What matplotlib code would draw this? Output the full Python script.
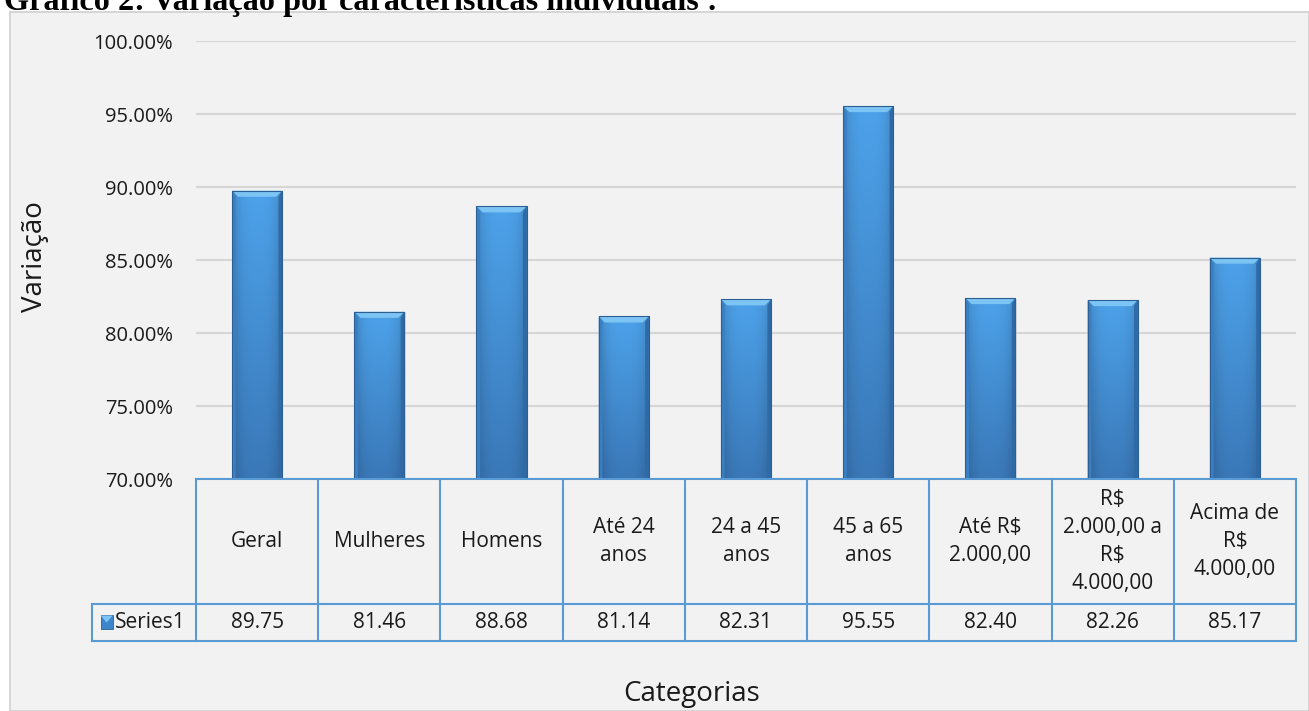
import matplotlib.pyplot as plt
import numpy as np
from matplotlib.patches import Rectangle, Polygon
from matplotlib.transforms import blended_transform_factory

categories = ['Geral', 'Mulheres', 'Homens', 'Até 24\nanos', '24 a 45\nanos',
              '45 a 65\nanos', 'Até R$\n2.000,00', 'R$\n2.000,00 a\nR$\n4.000,00',
              'Acima de\nR$\n4.000,00']
values = [89.75, 81.46, 88.68, 81.14, 82.31, 95.55, 82.40, 82.26, 85.17]
series_name = 'Series1'
yticks = [70, 75, 80, 85, 90, 95, 100]

W, H = 1309, 711
FONT = 'Open Sans'
fig = plt.figure(figsize=(W / 100, H / 100), dpi=100)
fig.patch.set_facecolor('white')

# chart area panel
panel = Rectangle((10 / W, 0), 1 - 10 / W, 1 - 12 / H, transform=fig.transFigure,
                  facecolor='#f2f2f2', edgecolor='#d0d0d0', lw=1.2, zorder=-1)
fig.patches.append(panel)

fig.text(4 / W, 1 - 10 / H, 'Gráfico 2: Variação por características individuais :',
         fontsize=23.2, fontweight='bold', family='Liberation Serif', va='baseline', ha='left')

ax = fig.add_axes([196 / W, 1 - 479 / H, 1100 / W, 438 / H])
ax.set_zorder(2)
ax.set_facecolor('none')
ax.set_yticks(yticks)
ax.set_yticklabels([f'{t:.2f}%' for t in yticks], family=FONT, fontsize=14.5,
                   color='#1a1a1a')
ax.tick_params(axis='y', length=0, pad=16.5)
ax.set_xticks([])
for s in ax.spines.values():
    s.set_visible(False)
ax.grid(axis='y', color='#d6d6d6', lw=1.5)
ax.set_axisbelow(True)

# bar gradient: light centre/top, darker edges/bottom
ny, nx = 64, 32
yy = np.linspace(0, 1, ny)[:, None]          # 0 bottom -> 1 top
xx = np.linspace(-1, 1, nx)[None, :]
top = np.array([0x4d, 0xa2, 0xea]) / 255
bot = np.array([0x3a, 0x78, 0xb8]) / 255
base = bot + (top - bot) * yy[..., None]
shade = 1 - 0.18 * np.abs(xx) ** 3
grad = np.clip(base * shade[..., None], 0, 1)

bw = 0.41
bx = 0.05
by = 0.42
for i, v in enumerate(values):
    x0, x1 = i - bw / 2, i + bw / 2
    # soft shadow
    ax.add_patch(Rectangle((x0 + 0.01, 70), bw, v - 70 - 0.05, facecolor='#9aa6b2',
                           alpha=0.35, lw=0, zorder=1.5))
    rect = Rectangle((x0, 70), bw, v - 70, facecolor='#4592da', lw=0, zorder=2)
    ax.add_patch(rect)
    im = ax.imshow(grad, extent=(x0, x1, 70, v), origin='lower', aspect='auto', zorder=2.1,
                   interpolation='bilinear')
    im.set_clip_path(rect)
    # bevel edges
    ax.add_patch(Polygon([(x0, v), (x1, v), (x1 - bx, v - by), (x0 + bx, v - by)],
                         facecolor='#7cc4f4', lw=0, zorder=2.2))
    ax.add_patch(Polygon([(x0, 70), (x0, v), (x0 + bx * 0.6, v - by), (x0 + bx * 0.6, 70)],
                         facecolor='#3a7fc4', lw=0, zorder=2.2))
    ax.add_patch(Polygon([(x1, 70), (x1, v), (x1 - bx * 0.6, v - by), (x1 - bx * 0.6, 70)],
                         facecolor='#2f6aa6', lw=0, zorder=2.2))
    ax.add_patch(Rectangle((x0, 70), bw, v - 70, facecolor='none', edgecolor='#2e5f92',
                           lw=0.8, zorder=2.3))
ax.set_xlim(-0.5, len(categories) - 0.5)
ax.set_ylim(70, 100)

# data table below the axis
tr = blended_transform_factory(ax.transData, ax.transAxes)
line_c = '#5b9bd5'
r1 = -(604 - 479) / 438
r2 = -(641 - 479) / 438
n = len(categories)
lkw = dict(color=line_c, lw=1.5, transform=tr, clip_on=False, zorder=3)
ax.plot([-0.5, n - 0.5], [0, 0], **lkw)
lx = -0.5 - (196 - 92) / (1100 / n)
ax.plot([lx, n - 0.5], [r1, r1], **lkw)
ax.plot([lx, n - 0.5], [r2, r2], **lkw)
ax.plot([lx, lx], [r1, r2], **lkw)
for k in range(n + 1):
    ax.plot([k - 0.5, k - 0.5], [0, r2], **lkw)
for i, (c, v) in enumerate(zip(categories, values)):
    ax.text(i, r1 / 2, c, transform=tr, ha='center', va='center', fontsize=15,
            family=FONT, linespacing=1.42, color='#1a1a1a')
    ax.text(i, (r1 + r2) / 2, f'{v:.2f}', transform=tr, ha='center', va='center',
            fontsize=15, family=FONT, color='#1a1a1a')

# legend key and series name
kw = 0.1
kx = lx + 0.07
ky = (r1 + r2) / 2
key = Rectangle((kx, ky - 0.014), kw, 0.03, transform=tr, facecolor='#3e86cc',
                edgecolor='#2e5f92', lw=0.6, clip_on=False, zorder=3)
ax.add_patch(key)
ax.add_patch(Polygon([(kx, ky + 0.016), (kx + kw, ky + 0.016), (kx + kw * 0.5, ky)],
                     transform=tr, facecolor='#7cc4f4', lw=0, clip_on=False, zorder=3.1))
ax.text(kx + kw + 0.015, ky, series_name, transform=tr, ha='left', va='center',
        fontsize=15, family=FONT, color='#1a1a1a')

fig.text(35 / W, 1 - 257 / H, 'Variação', rotation=90, ha='center', va='center',
         fontsize=20, family=FONT, color='#1a1a1a')
fig.text(692 / W, 1 - 694 / H, 'Categorias', ha='center', va='center',
         fontsize=20, family=FONT, color='#1a1a1a')

fig.savefig('out.png', dpi=100)
